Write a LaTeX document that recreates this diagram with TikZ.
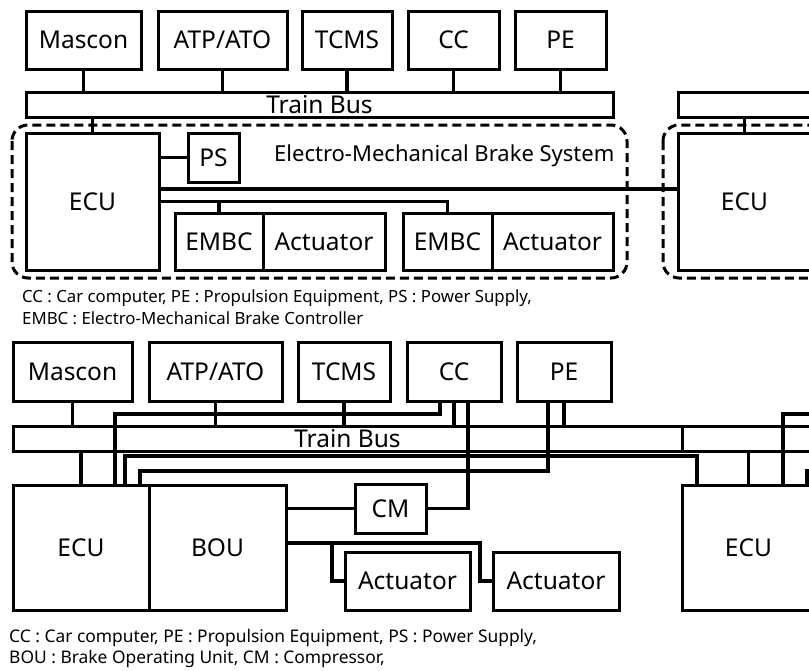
\documentclass[tikz,border=0pt]{standalone}
\usepackage{fontspec}
\setmainfont{Noto Sans}
\usetikzlibrary{calc,positioning}

\begin{document}
\begin{tikzpicture}[x=1pt,y=-1pt,
blk/.style={draw,line width=3pt,inner sep=0pt,outer sep=0pt,minimum height=58pt,font=\fontsize{24.5}{26}\selectfont},
bus/.style={draw,line width=3pt,inner sep=0pt,outer sep=0pt,minimum height=25pt,font=\fontsize{24.5}{26}\selectfont},
wire/.style={line width=3.2pt},
sysbox/.style={draw,line width=3pt,rounded corners=16pt,dash pattern=on 9pt off 5pt},
note/.style={anchor=west,inner sep=0pt,font=\fontsize{16.8}{18}\selectfont}]
\useasboundingbox (0,0) rectangle (809,670);
\clip (0,0) rectangle (809,670);
% upper half: electro-mechanical brake
\node[blk,minimum width=115pt] (mascA) at (83.5,40) {Mascon};
\node[blk,minimum width=129pt] (atpA) at (222.5,40) {ATP/ATO};
\node[blk,minimum width=90pt] (tcmsA) at (347,40) {TCMS};
\node[blk,minimum width=91pt] (ccA) at (453.5,40) {CC};
\node[blk,minimum width=91pt] (peA) at (560.5,40) {PE};
\node[bus,minimum width=587pt] (busA) at (319.5,104.5) {Train Bus};
\node[bus,minimum width=160pt] (busA2) at (758,104.5) {};
\draw[sysbox] (12,125) rectangle (627,278);
\draw[sysbox] (663,125) rectangle (850,278);
\node[blk,minimum width=133pt,minimum height=137pt] (ecuA) at (92.5,201.5) {ECU};
\node[blk,minimum width=51pt,minimum height=49pt] (psA) at (213.5,157.5) {PS};
\node[anchor=west,inner sep=0pt,font=\fontsize{22}{24}\selectfont] (embs) at (274,156) {Electro-Mechanical Brake System};
\node[blk,minimum width=88pt,minimum height=57pt] (embcA1) at (219,241.5) {EMBC};
\node[blk,minimum width=122pt,minimum height=57pt,right=0pt of embcA1] (actA1) {Actuator};
\node[blk,minimum width=89pt,minimum height=57pt] (embcA2) at (447.5,241.5) {EMBC};
\node[blk,minimum width=121pt,minimum height=57pt,right=0pt of embcA2] (actA2) {Actuator};
\node[blk,minimum width=133pt,minimum height=137pt] (ecuA2) at (744.5,201.5) {ECU};
\node[note] (keyA1) at (22,298) {CC : Car computer, PE : Propulsion Equipment, PS : Power Supply,};
\node[note] (keyA2) at (22,318) {EMBC : Electro-Mechanical Brake Controller};
\foreach \u in {mascA,atpA,tcmsA,ccA,peA}
  \draw[wire] (\u.south) -- (\u.south |- busA.north);
\draw[wire] (busA.south -| ecuA.north) -- (ecuA.north);
\draw[wire] (busA2.south -| ecuA2.north) -- (ecuA2.north);
\draw[wire] (ecuA.east |- psA.west) -- (psA.west);
\draw[wire] ($(ecuA.north east)+(0,56)$) -- ($(ecuA2.north west)+(0,56)$);
\draw[wire] (ecuA.east) -| (embcA2.north);
\draw[wire] (ecuA.east -| embcA1.north) -- (embcA1.north);
% lower half: electro-pneumatic brake
\node[blk,minimum width=119pt,minimum height=59pt] (mascB) at (72.5,371.5) {Mascon};
\node[blk,minimum width=133pt,minimum height=59pt] (atpB) at (215.5,371.5) {ATP/ATO};
\node[blk,minimum width=92pt,minimum height=59pt] (tcmsB) at (344,371.5) {TCMS};
\node[blk,minimum width=94pt,minimum height=59pt] (ccB) at (454,371.5) {CC};
\node[blk,minimum width=94pt,minimum height=59pt] (peB) at (564,371.5) {PE};
\node[bus,minimum width=669pt] (busB) at (347.5,438.5) {Train Bus};
\node[bus,minimum width=160pt] (busB2) at (762,438.5) {};
\node[blk,minimum width=136pt,minimum height=125pt] (ecuB) at (81,547.5) {ECU};
\node[blk,minimum width=137pt,minimum height=125pt,right=0pt of ecuB] (bouB) {BOU};
\node[blk,minimum width=71pt,minimum height=49pt] (cmB) at (390.5,508.5) {CM};
\node[blk,minimum width=125pt,minimum height=58pt] (actB1) at (407.5,581) {Actuator};
\node[blk,minimum width=126pt,minimum height=58pt] (actB2) at (556,581) {Actuator};
\node[blk,minimum width=133pt,minimum height=125pt] (ecuB2) at (748.5,547.5) {ECU};
\coordinate (nextcc) at (830,414);
\coordinate (nextpe) at (830,471);
\node[note,font=\fontsize{17.4}{19}\selectfont] (keyB1) at (9,638) {CC : Car computer, PE : Propulsion Equipment, PS : Power Supply,};
\node[note,font=\fontsize{17.4}{19}\selectfont] (keyB2) at (9,659) {BOU : Brake Operating Unit, CM : Compressor,};
\foreach \u in {mascB,atpB,tcmsB,ccB,peB}
  \draw[wire] (\u.south) -- (\u.south |- busB.north);
\draw[wire] (busB.south -| ecuB.north) -- (ecuB.north);
\draw[wire] (busB2.south -| ecuB2.north) -- (ecuB2.north);
\draw[wire] ($(ecuB.north west)+(102,0)$) |- ($(ccB.south)+(-14,13)$) -- ($(ccB.south)+(-14,0)$);
\draw[wire] ($(ccB.south)+(14,0)$) |- (cmB.east);
\draw[wire] ($(peB.south)+(-16,0)$) |- ($(ecuB.north west)+(127,-14)$) -- ($(ecuB.north west)+(127,0)$);
\draw[wire] ($(ecuB.north west)+(112,0)$) |- ($(ecuB2.north west)+(15,-29)$) -- ($(ecuB2.north west)+(15,0)$);
\draw[wire] ($(ecuB2.north west)+(101,0)$) |- (nextcc);
\draw[wire] ($(ecuB2.north west)+(125,0)$) |- (nextpe);
\draw[wire] (bouB.east |- cmB.west) -- (cmB.west);
\draw[wire] ($(bouB.north east)+(0,58)$) -| ($(actB2.west)+(-13,0)$) -- (actB2.west);
\draw[wire] ($(actB1.west)+(-13,-38)$) |- (actB1.west);
\end{tikzpicture}
\end{document}
